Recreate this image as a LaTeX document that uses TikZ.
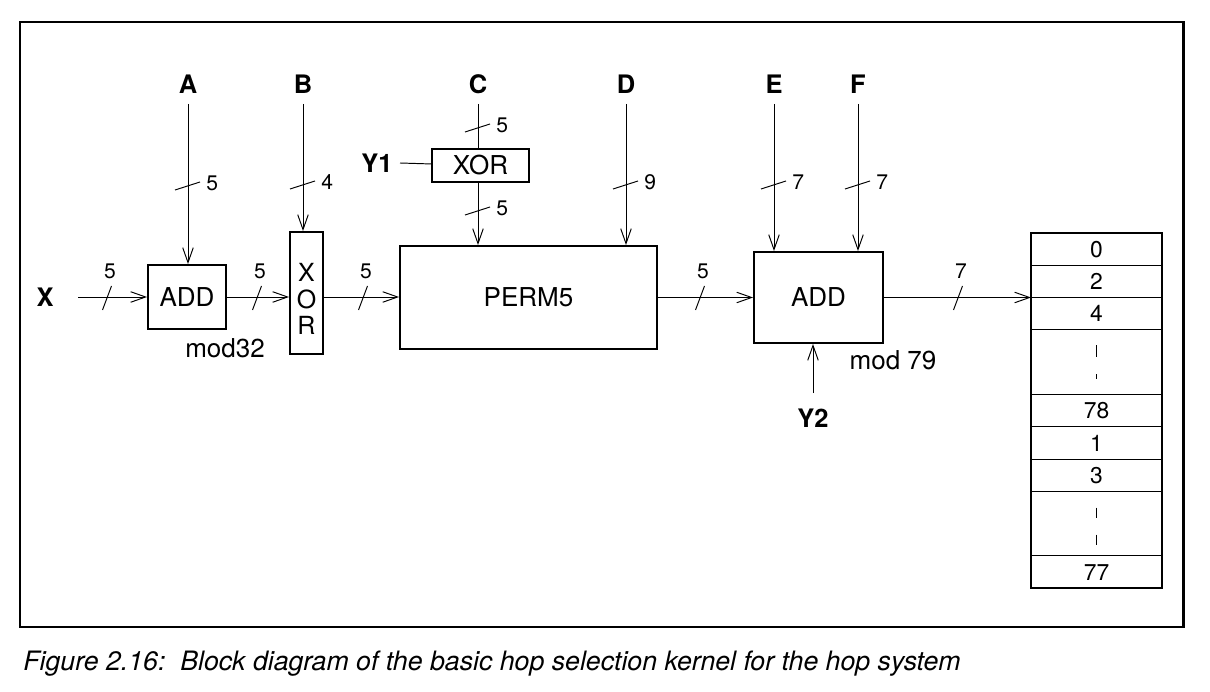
\documentclass[tikz,border=0pt]{standalone}
\usepackage{fontspec}
\setmainfont{TeX Gyre Heros}
\usetikzlibrary{arrows.meta,positioning,calc}

\tikzset{
  blk/.style={draw, line width=1.1pt, inner sep=0pt, font=\fontsize{14.8}{17}\selectfont},
  sig/.style={line width=0.55pt, -{Straight Barb[length=8.5pt,width=6pt]}},
  wire/.style={line width=0.55pt},
  bus/.style={line width=0.55pt},
  pin/.style={font=\fontsize{14.5}{17}\bfseries, inner sep=0pt},
  num/.style={font=\fontsize{12}{14}\selectfont, inner sep=0pt},
  note/.style={font=\fontsize{14.8}{17}\selectfont, inner sep=0pt},
  cell/.style={draw, line width=0.55pt, minimum width=2.62cm, inner sep=0pt, outer sep=0pt,
    font=\fontsize{13}{15}\selectfont},
}

% bus marks: horizontal line / vertical line
\newcommand{\hbus}[3]{%
  \draw[bus] (#1-4.5,#2+13) -- (#1+4.5,#2-11);
  \node[num] at (#1+3,#2-26) {#3};}
\newcommand{\vbus}[3]{%
  \draw[bus] (#1-13,#2+4) -- (#1+12,#2-4);
  \node[num, anchor=west] at (#1+18,#2-3) {#3};}

\begin{document}
\begin{tikzpicture}[x=0.02cm, y=-0.02cm]
  \useasboundingbox (0,0) rectangle (1210,692);
  \draw[line width=1.7pt] (20,22) rectangle (1183,627);

  % blocks
  \node[blk, minimum width=1.56cm, minimum height=1.28cm] (add1) at (187,297) {ADD};
  \node[note] (mod1) at (225,348) {mod32};
  \node[blk, minimum width=0.66cm, minimum height=2.44cm] (xor1) at (306.5,293) {};
  \node[note, font=\fontsize{14.2}{17}\selectfont] (xl) at (306.5,272.5) {X};
  \node[note, font=\fontsize{14.2}{17}\selectfont] (ol) at (306.5,299) {O};
  \node[note, font=\fontsize{14.2}{17}\selectfont] (rl) at (306.5,325) {R};
  \node[blk, minimum width=1.94cm, minimum height=0.66cm] (xor2) at (480.5,165.5) {XOR};
  \node[blk, minimum width=5.14cm, minimum height=2.06cm] (perm) at (528.5,297.5) {PERM5};
  \node[blk, minimum width=2.58cm, minimum height=1.82cm] (add2) at (818.5,297.5) {ADD};
  \node[note] (mod2) at (893,360) {mod 79};

  % inputs
  \node[pin] (x) at (45,297) {X};
  \node[pin] (a) at (188,84) {A};
  \node[pin] (b) at (303,84) {B};
  \node[pin] (c) at (478,84) {C};
  \node[pin] (d) at (626,84) {D};
  \node[pin] (e) at (774,84) {E};
  \node[pin] (f) at (858,84) {F};
  \node[pin] (y1) at (377,163) {Y1};
  \node[pin] (y2) at (813,418) {Y2};
  \coordinate (xin) at (78,297);
  \coordinate (ain) at (188,104);
  \coordinate (bin) at (303,104);
  \coordinate (cin) at (478,104);
  \coordinate (din) at (626,104);
  \coordinate (ein) at (774,104);
  \coordinate (fin) at (858,104);
  \coordinate (y1in) at (400,163);
  \coordinate (y2in) at (813,393);

  % hop table
  \node[cell, minimum height=0.646cm, anchor=north] (c0) at (1096.5,233) {0};
  \node[cell, minimum height=0.646cm, below=0pt of c0] (c2) {2};
  \node[cell, minimum height=0.646cm, below=0pt of c2] (c4) {4};
  \node[cell, minimum height=1.292cm, below=0pt of c4] (cd1) {};
  \node[cell, minimum height=0.646cm, below=0pt of cd1] (c78) {78};
  \node[cell, minimum height=0.646cm, below=0pt of c78] (c1) {1};
  \node[cell, minimum height=0.646cm, below=0pt of c1] (c3) {3};
  \node[cell, minimum height=1.292cm, below=0pt of c3] (cd2) {};
  \node[cell, minimum height=0.646cm, below=0pt of cd2] (c77) {77};
  \draw[line width=1.1pt] (c0.north west) rectangle (c77.south east);
  \draw[line width=1pt] ($(cd1.center)+(0,-17)$) -- ($(cd1.center)+(0,-5)$);
  \draw[line width=1pt] ($(cd1.center)+(0,12)$) -- ($(cd1.center)+(0,17)$);
  \draw[line width=1pt] ($(cd2.center)+(0,-16)$) -- ($(cd2.center)+(0,-6)$);
  \draw[line width=1pt] ($(cd2.center)+(0,11)$) -- ($(cd2.center)+(0,21)$);

  % connections
  \draw[sig] (xin) -- (add1);
  \draw[sig] (add1) -- (xor1.west |- add1);
  \draw[sig] (xor1.east |- add1) -- (perm.west |- add1);
  \draw[sig] (perm) -- (add2);
  \draw[sig] (add2) -- (add2.east -| c4.north west);
  \draw[sig] (ain) -- (ain |- add1.north);
  \draw[sig] (bin) -- (bin |- xor1.north);
  \draw[wire] (cin) -- (cin |- xor2.north);
  \draw[wire] (y1in) -- (xor2);
  \draw[sig] (cin |- xor2.south) -- (cin |- perm.north);
  \draw[sig] (din) -- (din |- perm.north);
  \draw[sig] (ein) -- (ein |- add2.north);
  \draw[sig] (fin) -- (fin |- add2.north);
  \draw[sig] (y2in) -- (y2in |- add2.south);

  % bus widths
  \hbus{107}{297}{5}
  \hbus{257}{297}{5}
  \hbus{363}{297}{5}
  \hbus{700}{297}{5}
  \hbus{958}{297}{7}
  \vbus{188}{186}{5}
  \vbus{303}{185}{4}
  \vbus{478}{128}{5}
  \vbus{478}{211}{5}
  \vbus{626}{185}{9}
  \vbus{774}{185}{7}
  \vbus{858}{185}{7}

  \node[anchor=base west, inner sep=0pt, font=\fontsize{15.2}{18}\itshape\selectfont] (cap) at (23,670)
    {Figure 2.16:\ \ Block diagram of the basic hop selection kernel for the hop system};
\end{tikzpicture}
\end{document}
